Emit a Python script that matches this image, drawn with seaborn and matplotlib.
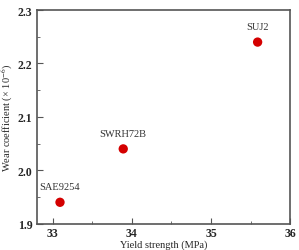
import matplotlib
matplotlib.use('Agg')
import matplotlib.pyplot as plt
import seaborn as sns
import pandas as pd
from matplotlib.ticker import MultipleLocator

steels = ['SAE9254', 'SWRH72B', 'SUJ2']
yield_strength = [33.09, 33.89, 35.59]
wear_coef = [1.94, 2.04, 2.24]

df = pd.DataFrame({'steel': steels, 'ys': yield_strength, 'wc': wear_coef})

sns.set_style('ticks')
plt.rcParams['font.family'] = ['Liberation Serif', 'DejaVu Serif']
plt.rcParams['mathtext.fontset'] = 'stix'

fig = plt.figure(figsize=(2.99, 2.51), dpi=100)
ax = fig.add_axes([0.124, 0.105, 0.846, 0.851])
sns.scatterplot(data=df, x='ys', y='wc', ax=ax, color='#d40000', s=45,
                edgecolor='none', legend=False)

for name, x, y in zip(steels, yield_strength, wear_coef):
    ax.annotate(name, (x, y), xytext=(0, 8), textcoords='offset points',
                ha='center', va='bottom', fontsize=7.5, color='#333333')

ax.set_xlim(32.8, 36)
ax.set_ylim(1.9, 2.3)
ax.xaxis.set_major_locator(MultipleLocator(1))
ax.xaxis.set_minor_locator(MultipleLocator(0.5))
ax.yaxis.set_major_locator(MultipleLocator(0.1))
ax.yaxis.set_minor_locator(MultipleLocator(0.05))
ax.tick_params(which='both', direction='in', color='#555555')
ax.tick_params(which='major', length=4, labelsize=8.5)
ax.tick_params(which='minor', length=2)
ax.tick_params(axis='x', which='major', pad=2.5)
for lab in ax.get_xticklabels() + ax.get_yticklabels():
    lab.set_fontweight('bold')
for sp in ax.spines.values():
    sp.set_color('#555555')
    sp.set_linewidth(1.2)

ax.set_xlabel('Yield strength (MPa)', fontsize=7.5, labelpad=0)
ax.set_ylabel('Wear coefficient (\u00d7 10$^{-6}$)', fontsize=7.5, labelpad=2)

fig.savefig('out.png', dpi=100)
